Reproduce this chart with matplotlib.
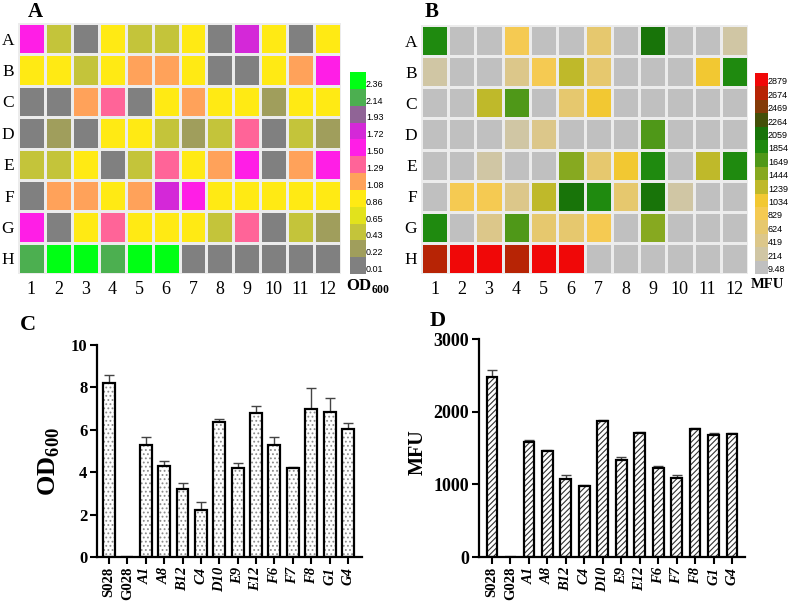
import numpy as np
import matplotlib
matplotlib.use("Agg")
import matplotlib.pyplot as plt
from matplotlib.colors import ListedColormap, BoundaryNorm
import matplotlib.colorbar as mcolorbar

plt.rcParams['font.family'] = ['Liberation Serif', 'DejaVu Serif']
plt.rcParams['mathtext.fontset'] = 'custom'
plt.rcParams['mathtext.rm'] = 'Liberation Serif'
plt.rcParams['mathtext.bf'] = 'Liberation Serif:bold'
plt.rcParams['hatch.linewidth'] = 0.8

# ---------------- data ----------------
rows = ['A', 'B', 'C', 'D', 'E', 'F', 'G', 'H']
cols = [str(i) for i in range(1, 13)]

# Panel A: OD600 heat map (values estimated from colour bins)
od_bounds = [0.01, 0.22, 0.43, 0.65, 0.86, 1.08, 1.29, 1.50, 1.72, 1.93, 2.14, 2.36, 2.57]
od_tick_labels = ['0.01', '0.22', '0.43', '0.65', '0.86', '1.08', '1.29', '1.50',
                  '1.72', '1.93', '2.14', '2.36']
od_colors = ['#808080', '#a09e5c', '#c4c43a', '#e2e21c', '#ffea14', '#ffa25a',
             '#ff6498', '#ff1ee6', '#d428d8', '#906496', '#4caf50', '#00ff14']
od_plate = [
    [1.60, 0.50, 0.10, 0.95, 0.50, 0.50, 0.95, 0.10, 1.80, 0.95, 0.10, 0.95],
    [0.95, 0.95, 0.50, 0.95, 1.15, 1.15, 0.95, 0.10, 0.10, 0.95, 1.15, 1.60],
    [0.10, 0.10, 1.15, 1.38, 0.10, 0.95, 1.15, 0.95, 0.95, 0.30, 0.95, 0.95],
    [0.10, 0.30, 0.10, 0.95, 0.95, 0.50, 0.30, 0.50, 1.38, 0.10, 0.50, 0.30],
    [0.50, 0.50, 0.95, 0.10, 0.50, 1.38, 0.95, 1.15, 1.60, 0.10, 1.15, 1.60],
    [0.10, 1.15, 1.15, 0.95, 1.15, 1.80, 1.60, 0.95, 0.95, 0.95, 0.95, 0.95],
    [1.60, 0.10, 0.95, 1.38, 0.95, 0.95, 0.95, 0.50, 1.38, 0.10, 0.50, 0.30],
    [2.25, 2.45, 2.45, 2.25, 2.45, 2.45, 0.10, 0.10, 0.10, 0.10, 0.10, 0.10],
]

# Panel B: MFU heat map
mfu_bounds = [9.48, 214, 419, 624, 829, 1034, 1239, 1444, 1649, 1854, 2059, 2264,
              2469, 2674, 2879, 3084]
mfu_tick_labels = ['9.48', '214', '419', '624', '829', '1034', '1239', '1444', '1649',
                   '1854', '2059', '2264', '2469', '2674', '2879']
mfu_colors = ['#c0c0c0', '#d0c6a4', '#dcc78a', '#e6c86e', '#f5ca52', '#f2c832',
              '#bfb92a', '#87a920', '#4f9818', '#1f8a0f', '#187409', '#435008',
              '#833b08', '#b72405', '#f00808']
mfu_plate = [
    [1900, 100, 100, 900, 100, 100, 700, 100, 2100, 100, 100, 300],
    [300, 100, 100, 500, 900, 1300, 700, 100, 100, 100, 1100, 1900],
    [100, 100, 1300, 1700, 100, 700, 1100, 100, 100, 100, 100, 100],
    [100, 100, 100, 300, 500, 100, 100, 100, 1700, 100, 100, 100],
    [100, 100, 300, 100, 100, 1500, 700, 1100, 1900, 100, 1300, 1900],
    [100, 900, 900, 500, 1300, 2100, 1900, 700, 2100, 300, 100, 100],
    [1900, 100, 500, 1700, 700, 700, 900, 100, 1500, 100, 100, 100],
    [2700, 2950, 2950, 2700, 2950, 2950, 100, 100, 100, 100, 100, 100],
]

# Panels C and D: bar charts
strains = ['S028', 'G028', 'A1', 'A8', 'B12', 'C4', 'D10', 'E9', 'E12', 'F6', 'F7',
           'F8', 'G1', 'G4']
od600 = [8.2, 0.0, 5.3, 4.3, 3.22, 2.22, 6.35, 4.19, 6.8, 5.3, 4.22, 7.0, 6.85, 6.03]
od600_err = [0.4, 0.0, 0.35, 0.24, 0.28, 0.36, 0.16, 0.24, 0.3, 0.37, 0.04, 0.98, 0.67, 0.27]
mfu = [2480, 0, 1576, 1465, 1070, 983, 1865, 1341, 1709, 1222, 1093, 1768, 1681, 1686]
mfu_err = [90, 0, 36, 14, 55, 14, 14, 32, 13, 32, 32, 14, 19, 27]

# ---------------- figure ----------------
W, H = 790, 610
fig = plt.figure(figsize=(W / 100, H / 100), dpi=100)


def px_axes(x0, y0, x1, y1):
    return fig.add_axes([x0 / W, 1 - y1 / H, (x1 - x0) / W, (y1 - y0) / H])


def heatmap(ax, data, colors, bounds):
    cmap = ListedColormap(colors)
    norm = BoundaryNorm(bounds, cmap.N)
    arr = np.array(data, dtype=float)
    ax.pcolormesh(np.arange(13), np.arange(9), arr, cmap=cmap, norm=norm,
                  edgecolors='#ececec', linewidth=0.8)
    ax.set_xlim(0, 12)
    ax.set_ylim(8, 0)
    ax.set_xticks(np.arange(12) + 0.5)
    ax.set_xticklabels(cols, fontsize=13)
    ax.set_yticks(np.arange(8) + 0.5)
    ax.set_yticklabels(rows, fontsize=12.5)
    ax.tick_params(axis='x', length=0, pad=5)
    ax.tick_params(axis='y', length=0, pad=3)
    for s in ax.spines.values():
        s.set_visible(False)
    return cmap, norm


def colorbar(cax, cmap, norm, bounds, labels):
    cb = mcolorbar.ColorbarBase(cax, cmap=cmap, norm=norm, boundaries=bounds,
                                spacing='uniform', orientation='vertical')
    cb.outline.set_visible(False)
    cax.minorticks_off()
    n = len(labels)
    cax.set_yticks(bounds[:n])
    cax.set_yticklabels(labels, fontsize=6.5, family='Liberation Sans', va='bottom')
    cax.tick_params(length=0, pad=0)
    cax.minorticks_off()
    return cb


# Panel A
axA = px_axes(18, 23, 341, 274)
cmapA, normA = heatmap(axA, od_plate, od_colors, od_bounds)
caxA = px_axes(350, 72, 366, 274)
colorbar(caxA, cmapA, normA, od_bounds, od_tick_labels)
fig.text(368 / W, 1 - 286 / H, r'OD$_\mathbf{600}$', fontsize=12, fontweight='bold',
         ha='center', va='center')
fig.text(35 / W, 1 - 12 / H, 'A', fontsize=15, fontweight='bold', ha='center', va='center')

# Panel B
axB = px_axes(421, 25, 748, 274)
cmapB, normB = heatmap(axB, mfu_plate, mfu_colors, mfu_bounds)
caxB = px_axes(755, 73, 768, 274)
colorbar(caxB, cmapB, normB, mfu_bounds, mfu_tick_labels)
fig.text(767 / W, 1 - 285 / H, 'MFU', fontsize=10.5, fontweight='bold',
         ha='center', va='center')
fig.text(432 / W, 1 - 12 / H, 'B', fontsize=15, fontweight='bold', ha='center', va='center')


def barpanel(ax, vals, errs, hatch, hatch_color, width, ylim, yticks, xlim, ytick_fs):
    x = np.arange(len(strains))
    ax.bar(x, vals, width=width, color='white', edgecolor=hatch_color, hatch=hatch,
           linewidth=0, zorder=2)
    ax.bar(x, vals, width=width, color='none', edgecolor='black', linewidth=1.6, zorder=3)
    lower = np.zeros(len(errs))
    ax.errorbar(x, vals, yerr=[lower, errs], fmt='none', ecolor='#444444',
                elinewidth=1.0, capsize=3.5, capthick=1.0, zorder=1)
    ax.set_xlim(*xlim)
    ax.set_ylim(*ylim)
    ax.set_yticks(yticks)
    ax.set_yticklabels([str(t) for t in yticks], fontsize=ytick_fs, fontweight='bold')
    ax.set_xticks(x)
    labs = ax.set_xticklabels(strains, rotation=90, fontsize=10.5, fontweight='bold')
    for i, lab in enumerate(labs):
        if i >= 2:
            lab.set_style('italic')
    for s in ['top', 'right']:
        ax.spines[s].set_visible(False)
    for s in ['left', 'bottom']:
        ax.spines[s].set_linewidth(1.6)
    ax.tick_params(direction='out', length=5, width=1.5, pad=2)


# Panel C
axC = px_axes(97, 345, 362, 557)
barpanel(axC, od600, od600_err, '....', '#8c8c8c', 0.65, (0, 10), [0, 2, 4, 6, 8, 10],
         (-0.65, 13.76), 12)
axC.set_ylabel(r'OD$_\mathbf{600}$', fontsize=19, fontweight='bold')
axC.yaxis.set_label_coords(-35 / 265, 0.45)
fig.text(28 / W, 1 - 325 / H, 'C', fontsize=16, fontweight='bold', ha='center', va='center')

# Panel D
axD = px_axes(479, 339, 745, 557)
barpanel(axD, mfu, mfu_err, '//////', '#333333', 0.58, (0, 3000), [0, 1000, 2000, 3000],
         (-0.7, 13.7), 13)
axD.set_ylabel('MFU', fontsize=14.5, fontweight='bold')
axD.yaxis.set_label_coords(-51 / 266, 0.48)
fig.text(438 / W, 1 - 321 / H, 'D', fontsize=16, fontweight='bold', ha='center', va='center')

fig.savefig('out.png', dpi=100)
